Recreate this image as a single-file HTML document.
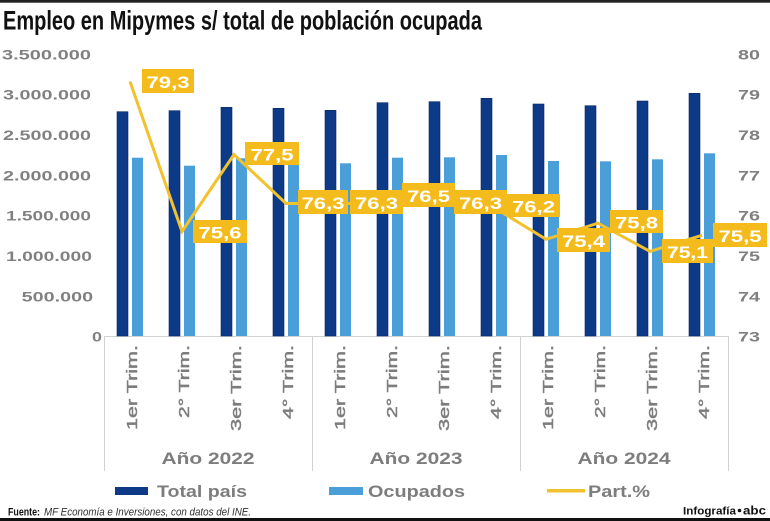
<!DOCTYPE html>
<html><head><meta charset="utf-8"><style>
html,body{margin:0;padding:0;background:#fff;}
svg{display:block;}
text{font-family:"Liberation Sans",Arial,sans-serif;}
</style></head><body>
<svg width="770" height="521" viewBox="0 0 770 521" xmlns="http://www.w3.org/2000/svg">
<rect x="0" y="0" width="770" height="521" fill="#fff"/>
<rect x="0" y="0" width="770" height="2.7" fill="#222"/>
<text x="3" y="29.3" font-size="27" font-weight="bold" fill="#111" textLength="479" lengthAdjust="spacingAndGlyphs">Empleo en Mipymes s/ total de población ocupada</text>

<!-- left axis labels -->
<g font-size="13.5" font-weight="bold" fill="#808080">
<text x="2" y="59.3" textLength="89" lengthAdjust="spacingAndGlyphs">3.500.000</text>
<text x="3" y="99.6" textLength="88" lengthAdjust="spacingAndGlyphs">3.000.000</text>
<text x="3" y="140" textLength="88" lengthAdjust="spacingAndGlyphs">2.500.000</text>
<text x="3" y="180.3" textLength="88" lengthAdjust="spacingAndGlyphs">2.000.000</text>
<text x="6" y="220.7" textLength="85" lengthAdjust="spacingAndGlyphs">1.500.000</text>
<text x="6" y="261" textLength="86" lengthAdjust="spacingAndGlyphs">1.000.000</text>
<text x="21.7" y="301.4" textLength="71.5" lengthAdjust="spacingAndGlyphs">500.000</text>
<text x="92" y="341.7" textLength="10" lengthAdjust="spacingAndGlyphs">0</text>
</g>
<!-- right axis labels -->
<g font-size="13.5" font-weight="bold" fill="#808080">
<text x="738" y="59.3" textLength="22" lengthAdjust="spacingAndGlyphs">80</text>
<text x="738" y="99.6" textLength="22" lengthAdjust="spacingAndGlyphs">79</text>
<text x="738" y="140" textLength="22" lengthAdjust="spacingAndGlyphs">78</text>
<text x="738" y="180.3" textLength="22" lengthAdjust="spacingAndGlyphs">77</text>
<text x="738" y="220.7" textLength="22" lengthAdjust="spacingAndGlyphs">76</text>
<text x="738" y="261" textLength="22" lengthAdjust="spacingAndGlyphs">75</text>
<text x="738" y="301.4" textLength="22" lengthAdjust="spacingAndGlyphs">74</text>
<text x="738" y="341.7" textLength="22" lengthAdjust="spacingAndGlyphs">73</text>
</g>

<!-- axis lines -->
<g stroke="#d2d2d2" stroke-width="1" fill="none">
<line x1="104" y1="336.5" x2="729" y2="336.5"/>
<line x1="104.5" y1="336" x2="104.5" y2="471"/>
<line x1="312.5" y1="336" x2="312.5" y2="471"/>
<line x1="520.5" y1="336" x2="520.5" y2="471"/>
<line x1="728.5" y1="336" x2="728.5" y2="471"/>
</g>

<!-- bars dark -->
<g fill="#0c3a86" stroke="#072a66" stroke-width="0.6">
<rect x="117" y="111.7" width="11" height="224.3"/>
<rect x="169" y="110.7" width="11" height="225.3"/>
<rect x="221" y="107.3" width="11" height="228.7"/>
<rect x="273" y="108.3" width="11" height="227.7"/>
<rect x="325" y="110.3" width="11" height="225.7"/>
<rect x="377" y="102.7" width="11" height="233.3"/>
<rect x="429" y="101.7" width="11" height="234.3"/>
<rect x="481" y="98.3" width="11" height="237.7"/>
<rect x="533" y="104" width="11" height="232"/>
<rect x="585" y="105.7" width="11" height="230.3"/>
<rect x="637" y="101" width="11" height="235"/>
<rect x="689" y="93.3" width="11" height="242.7"/>
</g>
<!-- bars light -->
<g fill="#4a9fd8">
<rect x="132" y="157.7" width="11" height="178.3"/>
<rect x="184" y="165.7" width="11" height="170.3"/>
<rect x="236" y="158.3" width="11" height="177.7"/>
<rect x="288" y="163" width="11" height="173"/>
<rect x="340" y="163.3" width="11" height="172.7"/>
<rect x="392" y="157.7" width="11" height="178.3"/>
<rect x="444" y="157.3" width="11" height="178.7"/>
<rect x="496" y="155" width="11" height="181"/>
<rect x="548" y="161" width="11" height="175"/>
<rect x="600" y="161.3" width="11" height="174.7"/>
<rect x="652" y="159.3" width="11" height="176.7"/>
<rect x="704" y="153.3" width="11" height="182.7"/>
</g>

<!-- line -->
<polyline fill="none" stroke="#f2c12e" stroke-width="3" stroke-linejoin="miter"
 points="130,81.5 182,231.5 234,154.5 286,203.5 338,203.5 390,203.5 442,195.5 494,207.5 546,239.3 598,223.2 650,251.4 702,235.3"/>

<!-- data labels -->
<g fill="#f3bb1b">
<rect x="142" y="69" width="52" height="24"/>
<rect x="193" y="220" width="54" height="23"/>
<rect x="245" y="142" width="54" height="23"/>
<rect x="298" y="190" width="50" height="24"/>
<rect x="350" y="190" width="53" height="24"/>
<rect x="402" y="183" width="53" height="24"/>
<rect x="454" y="190" width="53" height="24"/>
<rect x="507" y="194" width="53" height="23"/>
<rect x="557" y="228" width="53" height="24"/>
<rect x="610" y="210" width="53" height="23"/>
<rect x="662" y="239" width="51" height="24"/>
<rect x="713" y="223" width="54" height="24"/>
</g>
<g fill="#fff" font-size="17" font-weight="bold" text-anchor="middle">
<text x="168" y="88" textLength="43" lengthAdjust="spacingAndGlyphs">79,3</text>
<text x="220" y="238.5" textLength="43" lengthAdjust="spacingAndGlyphs">75,6</text>
<text x="272" y="160.5" textLength="43" lengthAdjust="spacingAndGlyphs">77,5</text>
<text x="323" y="209" textLength="43" lengthAdjust="spacingAndGlyphs">76,3</text>
<text x="376.5" y="209" textLength="43" lengthAdjust="spacingAndGlyphs">76,3</text>
<text x="428.5" y="202" textLength="43" lengthAdjust="spacingAndGlyphs">76,5</text>
<text x="480.5" y="209" textLength="43" lengthAdjust="spacingAndGlyphs">76,3</text>
<text x="533.5" y="212.5" textLength="43" lengthAdjust="spacingAndGlyphs">76,2</text>
<text x="583.5" y="247" textLength="43" lengthAdjust="spacingAndGlyphs">75,4</text>
<text x="636.5" y="228.5" textLength="43" lengthAdjust="spacingAndGlyphs">75,8</text>
<text x="687.5" y="258" textLength="41" lengthAdjust="spacingAndGlyphs">75,1</text>
<text x="740" y="242" textLength="43" lengthAdjust="spacingAndGlyphs">75,5</text>
</g>

<!-- category labels -->
<g font-size="15" fill="#7d7d7d" stroke="#7d7d7d" stroke-width="0.45" text-anchor="end">
<text transform="translate(137,345) rotate(-90)" textLength="85" lengthAdjust="spacingAndGlyphs">1er Trim.</text>
<text transform="translate(189,345) rotate(-90)" textLength="73" lengthAdjust="spacingAndGlyphs">2° Trim.</text>
<text transform="translate(241,345) rotate(-90)" textLength="86" lengthAdjust="spacingAndGlyphs">3er Trim.</text>
<text transform="translate(293,345) rotate(-90)" textLength="74" lengthAdjust="spacingAndGlyphs">4° Trim.</text>
<text transform="translate(345,345) rotate(-90)" textLength="85" lengthAdjust="spacingAndGlyphs">1er Trim.</text>
<text transform="translate(397,345) rotate(-90)" textLength="73" lengthAdjust="spacingAndGlyphs">2° Trim.</text>
<text transform="translate(449,345) rotate(-90)" textLength="86" lengthAdjust="spacingAndGlyphs">3er Trim.</text>
<text transform="translate(501,345) rotate(-90)" textLength="74" lengthAdjust="spacingAndGlyphs">4° Trim.</text>
<text transform="translate(553,345) rotate(-90)" textLength="85" lengthAdjust="spacingAndGlyphs">1er Trim.</text>
<text transform="translate(605,345) rotate(-90)" textLength="73" lengthAdjust="spacingAndGlyphs">2° Trim.</text>
<text transform="translate(657,345) rotate(-90)" textLength="86" lengthAdjust="spacingAndGlyphs">3er Trim.</text>
<text transform="translate(709,345) rotate(-90)" textLength="74" lengthAdjust="spacingAndGlyphs">4° Trim.</text>
</g>

<!-- group labels -->
<g font-size="16.5" font-weight="bold" fill="#7d7d7d" text-anchor="middle">
<text x="208" y="464" textLength="93" lengthAdjust="spacingAndGlyphs">Año 2022</text>
<text x="416" y="464" textLength="93" lengthAdjust="spacingAndGlyphs">Año 2023</text>
<text x="624" y="464" textLength="93" lengthAdjust="spacingAndGlyphs">Año 2024</text>
</g>

<!-- legend -->
<rect x="115" y="487" width="33" height="8" fill="#0c3a86"/>
<rect x="329" y="487" width="34" height="8" fill="#4a9fd8"/>
<rect x="547" y="489" width="38" height="3.5" fill="#f2c12e"/>
<g font-size="16.5" font-weight="bold" fill="#7d7d7d">
<text x="157" y="497" textLength="90" lengthAdjust="spacingAndGlyphs">Total país</text>
<text x="368" y="497" textLength="97" lengthAdjust="spacingAndGlyphs">Ocupados</text>
<text x="588" y="497" textLength="62" lengthAdjust="spacingAndGlyphs">Part.%</text>
</g>

<!-- footer -->
<text x="8" y="515.5" font-size="11" font-weight="bold" fill="#111" textLength="32" lengthAdjust="spacingAndGlyphs">Fuente:</text>
<text x="44" y="515.5" font-size="11" font-style="italic" fill="#333" textLength="207" lengthAdjust="spacingAndGlyphs">MF Economía e Inversiones, con datos del INE.</text>
<text x="683" y="514.5" font-size="11" font-weight="bold" fill="#111" textLength="53" lengthAdjust="spacingAndGlyphs">Infografía</text>
<circle cx="739.5" cy="510.5" r="1.8" fill="#111"/>
<text x="743" y="514.5" font-size="12" font-weight="bold" fill="#111" textLength="23" lengthAdjust="spacingAndGlyphs">abc</text>
<rect x="0" y="518" width="770" height="3" fill="#111"/>
</svg>
</body></html>
